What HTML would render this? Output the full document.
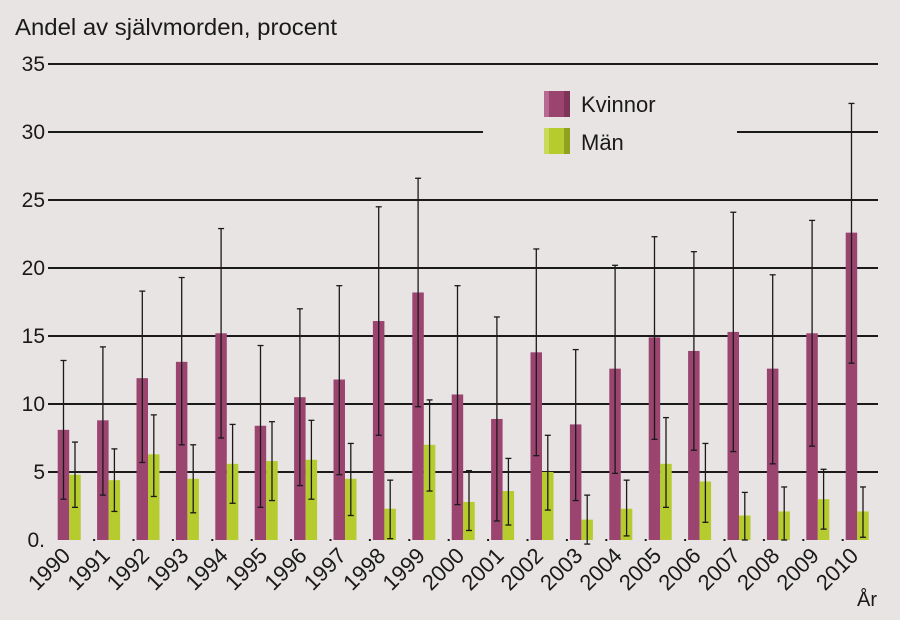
<!DOCTYPE html><html><head><meta charset="utf-8"><style>body{margin:0;background:#e8e4e4}svg{display:block}text{font-family:"Liberation Sans",sans-serif;fill:#1a1a1a}</style></head><body>
<svg id="s" width="900" height="620" xmlns="http://www.w3.org/2000/svg">
<rect width="900" height="620" fill="#e8e4e4"/>
<text x="15" y="35" font-size="23" textLength="322" lengthAdjust="spacingAndGlyphs">Andel av självmorden, procent</text>
</svg>
<script>
const s=document.getElementById('s');let h='';
const Y=v=>540-v*13.6;
for(let i=1;i<=7;i++){const y=Y(i*5);
 if(i==6){h+=`<line x1="48" x2="483" y1="${y}" y2="${y}" stroke="#1a1a1a" stroke-width="2"/><line x1="737" x2="878" y1="${y}" y2="${y}" stroke="#1a1a1a" stroke-width="2"/>`}
 else h+=`<line x1="48" x2="878" y1="${y}" y2="${y}" stroke="#1a1a1a" stroke-width="2"/>`;}
for(let i=0;i<=7;i++)h+=`<text x="45" y="${Y(i*5)+7}" font-size="21" text-anchor="end">${i*5}${i==0?'.':''}</text>`;
const K=[[8.1,3,13.2],[8.8,3.3,14.2],[11.9,5.7,18.3],[13.1,7,19.3],[15.2,7.5,22.9],[8.4,2.4,14.3],[10.5,4,17],[11.8,4.8,18.7],[16.1,7.7,24.5],[18.2,9.8,26.6],[10.7,2.6,18.7],[8.9,1.4,16.4],[13.8,6.2,21.4],[8.5,2.9,14],[12.6,4.9,20.2],[14.9,7.4,22.3],[13.9,6.6,21.2],[15.3,6.5,24.1],[12.6,5.6,19.5],[15.2,6.9,23.5],[22.6,13,32.1]];
const M=[[4.8,2.4,7.2],[4.4,2.1,6.7],[6.3,3.2,9.2],[4.5,2,7],[5.6,2.7,8.5],[5.8,2.9,8.7],[5.9,3,8.8],[4.5,1.8,7.1],[2.3,.1,4.4],[7,3.6,10.3],[2.8,.7,5.1],[3.6,1.1,6],[5,2.2,7.7],[1.5,-.3,3.3],[2.3,.3,4.4],[5.6,2.4,9],[4.3,1.3,7.1],[1.8,0,3.5],[2.1,0,3.9],[3,.8,5.2],[2.1,.2,3.9]];
function eb(x,lo,hi){return `<g stroke="#1a1a1a" stroke-width="1.3"><line x1="${x}" x2="${x}" y1="${Y(hi)}" y2="${Y(lo)}"/><line x1="${x-3}" x2="${x+3}" y1="${Y(hi)}" y2="${Y(hi)}"/><line x1="${x-3}" x2="${x+3}" y1="${Y(lo)}" y2="${Y(lo)}"/></g>`}
for(let i=0;i<21;i++){const x=57.7+i*39.4;
 const k=K[i],m=M[i];
 h+=`<rect x="${x}" y="${Y(k[0])}" width="11.5" height="${k[0]*13.6}" fill="#9b4470"/>`;
 h+=`<rect x="${x+11.5}" y="${Y(m[0])}" width="11.5" height="${m[0]*13.6}" fill="#b5cb2e"/>`;
 h+=eb(x+5.8,k[1],k[2])+eb(x+17.3,m[1],m[2]);
 if(i>0)h+=`<rect x="${x-4}" y="539" width="2" height="2" fill="#1a1a1a"/>`;
 h+=`<text font-size="22" text-anchor="end" transform="translate(${x+14},557) rotate(-45)">${1990+i}</text>`;}
h+=`<text x="857" y="606" font-size="20">År</text>`;
h+=`<rect x="544" y="91" width="26" height="26" fill="#9b4470"/><rect x="544" y="91" width="5" height="26" fill="#b66a90"/><rect x="564" y="91" width="6" height="26" fill="#7e3358"/>`;
h+=`<rect x="544" y="128" width="26" height="26" fill="#b5cb2e"/><rect x="544" y="128" width="5" height="26" fill="#c8da5a"/><rect x="564" y="128" width="6" height="26" fill="#8fa220"/>`;
h+=`<text x="581" y="112" font-size="22">Kvinnor</text><text x="581" y="150" font-size="22">Män</text>`;
s.insertAdjacentHTML('beforeend',h);
</script></body></html>
